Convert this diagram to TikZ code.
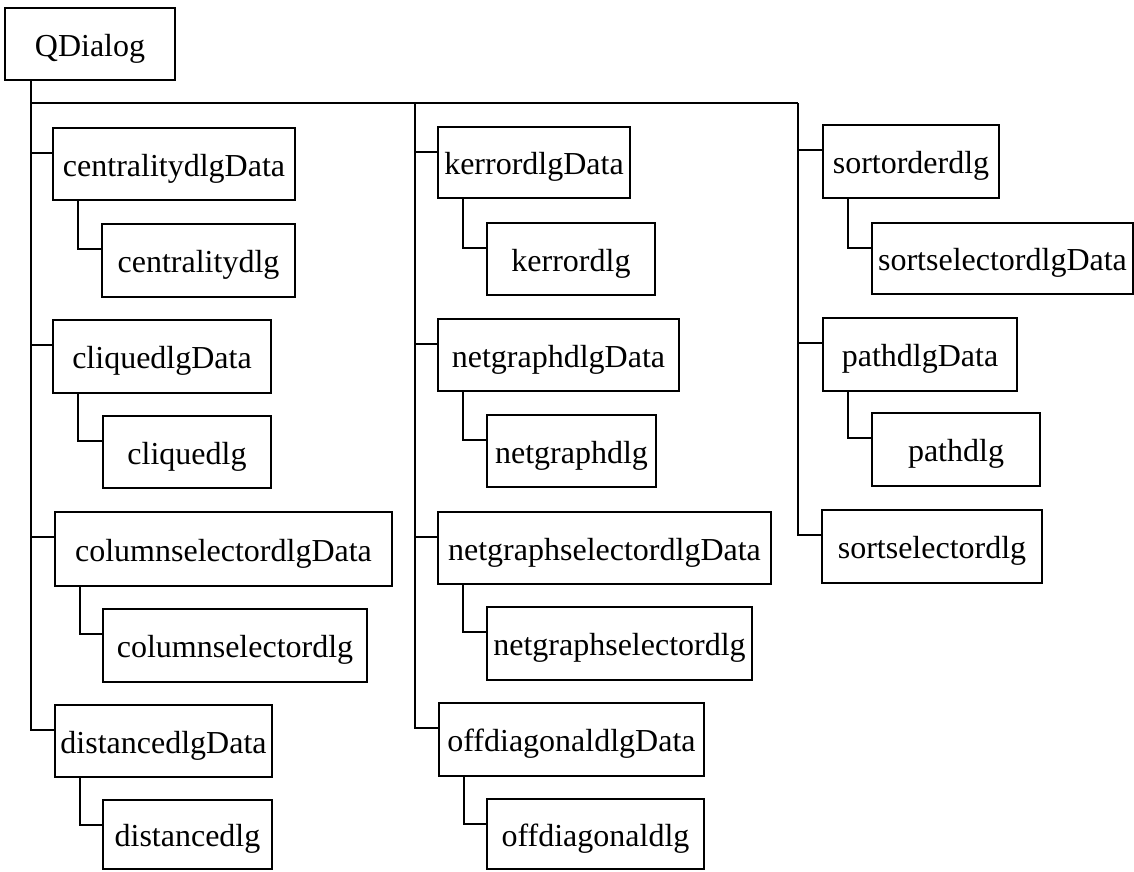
\documentclass[tikz,border=0pt]{standalone}
\usepackage{fontspec}
\setmainfont{Liberation Serif}
\usetikzlibrary{calc}
\begin{document}
\begin{tikzpicture}[x=1pt,y=-1pt,line width=2pt,
  box/.style={draw,anchor=north west,inner sep=0pt,outer sep=0pt,
    text height=24pt,text depth=0pt,font=\fontsize{32}{38}\selectfont},
  link/.style={draw,line width=2pt}]
\useasboundingbox (0,0) rectangle (1134,871);

% root
\node[box,minimum width=170,minimum height=72] (root) at (5,8) {QDialog};

% first column
\node[box,minimum width=242,minimum height=72] (cenD) at (53,128) {centralitydlgData};
\node[box,minimum width=193,minimum height=73] (cen) at (102,224) {centralitydlg};
\node[box,minimum width=218,minimum height=73] (cliD) at (53,320) {cliquedlgData};
\node[box,minimum width=168,minimum height=72] (cli) at (103,416) {cliquedlg};
\node[box,minimum width=337,minimum height=74] (colD) at (55,512) {columnselectordlgData};
\node[box,minimum width=264,minimum height=73] (col) at (103,609) {columnselectordlg};
\node[box,minimum width=217,minimum height=72] (disD) at (55,705) {distancedlgData};
\node[box,minimum width=169,minimum height=69] (dis) at (103,800) {distancedlg};

% second column
\node[box,minimum width=192,minimum height=71] (kerD) at (438,127) {kerrordlgData};
\node[box,minimum width=168,minimum height=72] (ker) at (487,223) {kerrordlg};
\node[box,minimum width=241,minimum height=72] (netD) at (438,319) {netgraphdlgData};
\node[box,minimum width=169,minimum height=72] (net) at (487,415) {netgraphdlg};
\node[box,minimum width=333,minimum height=72] (nsD) at (438,512) {netgraphselectordlgData};
\node[box,minimum width=265,minimum height=73] (ns) at (487,607) {netgraphselectordlg};
\node[box,minimum width=265,minimum height=73] (offD) at (439,703) {offdiagonaldlgData};
\node[box,minimum width=217,minimum height=70] (off) at (487,799) {offdiagonaldlg};

% third column
\node[box,minimum width=176,minimum height=73] (sord) at (823,125) {sortorderdlg};
\node[box,minimum width=261,minimum height=71] (sselD) at (872,223) {sortselectordlgData};
\node[box,minimum width=194,minimum height=73] (pathD) at (823,318) {pathdlgData};
\node[box,minimum width=168,minimum height=73] (path) at (872,413) {pathdlg};
\node[box,minimum width=220,minimum height=73] (ssel) at (822,510) {sortselectordlg};

% trunk and bus from the root
\coordinate (t) at ($(root.south west)+(26,0)$);
\coordinate (bus) at ($(t)+(0,23)$);
\coordinate (mtop) at (415,103);
\coordinate (rtop) at (798,103);
\draw[link] (bus) -- (rtop);

% entry points of the top-level children (25 below their top-left corner)
\foreach \n in {cenD,cliD,colD,disD,kerD,netD,nsD,offD,sord,pathD,ssel}
  \coordinate (\n-in) at ($(\n.north west)+(0,25)$);

% first column trunk
\draw[link] (t) |- (disD-in);
\foreach \n in {cenD,cliD,colD}
  \draw[link] (t |- \n-in) -- (\n-in);

% second column trunk
\draw[link] (mtop) |- (offD-in);
\foreach \n in {kerD,netD,nsD}
  \draw[link] (mtop |- \n-in) -- (\n-in);

% third column trunk
\draw[link] (rtop) |- (ssel-in);
\foreach \n in {sord,pathD}
  \draw[link] (rtop |- \n-in) -- (\n-in);

% parent to child elbows
\foreach \p/\c in {cenD/cen,cliD/cli,colD/col,disD/dis,kerD/ker,netD/net,nsD/ns,offD/off,sord/sselD,pathD/path}
  \draw[link] ($(\p.south west)+(25,0)$) |- ($(\c.north west)+(0,25)$);
\end{tikzpicture}
\end{document}
